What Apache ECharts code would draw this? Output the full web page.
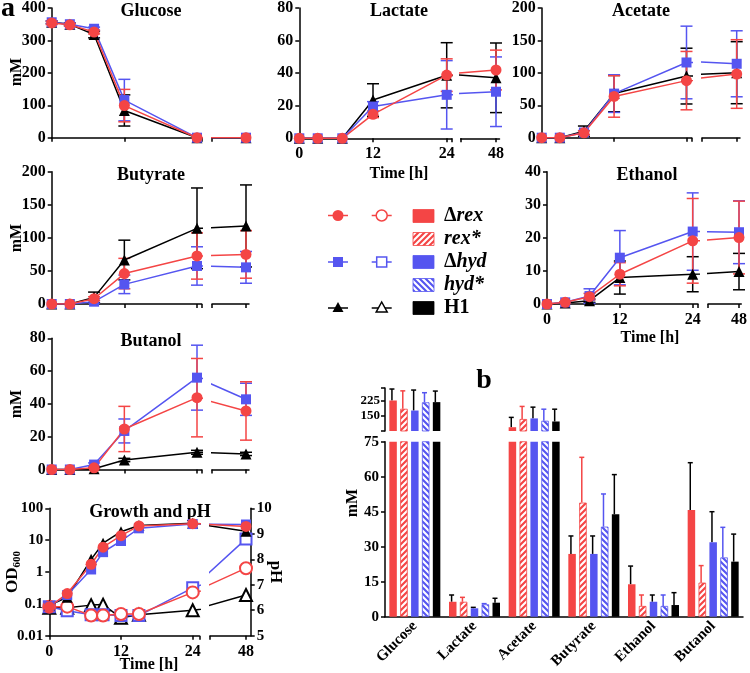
<!DOCTYPE html>
<html><head><meta charset="utf-8">
<script src="https://cdn.jsdelivr.net/npm/echarts@6/dist/echarts.min.js"></script>
<style>html,body{margin:0;padding:0;background:#fff}#c{width:750px;height:673px}</style>
</head><body><div id="c"></div>
<script>
const RED = '#f44545', BLUE = '#5555f0', BLACK = '#000000';
const FF = '"Liberation Serif","Times New Roman",serif';

// ---------------- DATA ----------------
const times = [0, 3, 7, 12, 24, 48];
const growthTimes = [0, 3, 7, 9, 12, 15, 24, 48];
// each point: [mean, sd]
const glucoseRex = [[354,5],[348,4],[326,6],[99,50],[0,0],[0,0]];
const glucoseHyd = [[356,4],[350,4],[336,5],[116,64],[0,0],[0,0]];
const glucoseH1  = [[356,4],[350,4],[318,10],[84,48],[0,0],[0,0]];
const lactateRex = [[0,0],[0,0],[0,0],[14.7,2],[38.8,10],[41.2,12]];
const lactateHyd = [[0,0],[0,0],[0,0],[19.5,3],[26.7,21],[28.1,21]];
const lactateH1  = [[0,0],[0,0],[0,0],[23.5,10],[38.7,20],[36.5,21]];
const acetateRex = [[0,0],[0,0],[7.6,3],[63.6,32],[88,45],[96.5,52]];
const acetateHyd = [[0,0],[0,0],[8,3],[68,29],[116,56],[112,50]];
const acetateH1  = [[0,0],[0,0],[10,8],[68,28],[95,43],[98.5,47]];
const butyrateRex = [[0,0],[0,0],[8,3],[46,23],[72.6,35],[75,36]];
const butyrateHyd = [[0,0],[0,0],[3.5,2],[29.7,14],[57.5,29],[55.4,24]];
const butyrateH1  = [[0,0],[0,0],[10,8],[66.5,30],[114.4,61],[118,62]];
const ethanolRex = [[0,0],[0.5,0.2],[2.2,1],[9,3.5],[19.1,12.8],[20.1,11]];
const ethanolHyd = [[0,0],[0.5,0.2],[2.4,2.2],[14,8.2],[21.9,11.7],[21.7,9.5]];
const ethanolH1  = [[0,0],[0.3,0],[1,0.5],[8,5],[9,5.3],[9.8,5.5]];
const butanolRex = [[0,0],[0,0],[1,0.5],[24.7,13.8],[43.8,23.9],[35.7,17.8]];
const butanolHyd = [[0,0],[0,0],[3,1],[23.5,7.3],[56,19.8],[42.8,9.8]];
const butanolH1  = [[0,0],[0,0],[0.5,0.3],[5.8,1],[10.5,1.2],[9.5,1]];

const odRex = [0.081, 0.21, 1.75, 6.0, 13.8, 28, 33, 27];
const odHyd = [0.085, 0.19, 1.2, 4.2, 9.4, 23.5, 32, 31];
const odH1  = [0.09, 0.16, 2.5, 8, 18.4, 29, 34, 19];
const phRex = [6.14, 6.14, 5.79, 5.79, 5.85, 5.85, 6.70, 7.65];
const phHyd = [6.14, 5.98, 5.82, 5.82, 5.79, 5.79, 6.88, 8.80];
const phH1  = [6.1, 6.1, 6.2, 6.22, 5.7, 5.82, 6.0, 6.6];

const barCats = ['Glucose','Lactate','Acetate','Butyrate','Ethanol','Butanol'];
const barRex       = [224, 6.4, 93.5, 26.9, 13.9, 45.7];
const barRexSd     = [56, 2.9, 48, 7.7, 7.8, 20.3];
const barRexStar   = [183.5, 6.4, 133.5, 48.9, 4.6, 14.6];
const barRexStarSd = [87.5, 1.9, 61.5, 19.4, 4.7, 7.3];
const barHyd       = [175, 3.6, 136.5, 26.9, 6.4, 31.9];
const barHydSd     = [100, 0.4, 55, 7.7, 2.9, 13.1];
const barHydStar   = [215, 5.3, 125, 38.6, 4.6, 25.4];
const barHydStarSd = [47, 0.3, 56.5, 14, 4.7, 12.9];
const barH1        = [216, 6.0, 121.5, 43.9, 5.0, 23.6];
const barH1Sd      = [54, 1.9, 60, 17, 5.3, 11.8];

// ---------------- BUILD ----------------
const grid = [], xAxis = [], yAxis = [], series = [], graphic = [];
const LS = {color:'#000', width:1.5};
const lab = (size) => ({color:'#000', fontFamily:FF, fontWeight:'bold', fontSize:size});
function addGrid(l,t,w,h){ grid.push({left:l,top:t,width:w,height:h,containLabel:false,show:false}); return grid.length-1; }

function errSeries(xi, yi, data, color, capHalf, upOnly, dx){
  return {type:'custom', xAxisIndex:xi, yAxisIndex:yi, data:data, encode:{x:0,y:[1,2]}, silent:true, z:2,
    renderItem:function(params, api){
      const x = api.value(0), lo = api.value(1), hi = api.value(2);
      const a = api.coord([x,lo]), b = api.coord([x,hi]);
      const o = dx||0;
      const st = {stroke:color, lineWidth:1.5};
      const ch = [
        {type:'line', shape:{x1:a[0]+o,y1:a[1],x2:b[0]+o,y2:b[1]}, style:st},
        {type:'line', shape:{x1:b[0]+o-capHalf,y1:b[1],x2:b[0]+o+capHalf,y2:b[1]}, style:st}];
      if(!upOnly) ch.push({type:'line', shape:{x1:a[0]+o-capHalf,y1:a[1],x2:a[0]+o+capHalf,y2:a[1]}, style:st});
      return {type:'group', children:ch};
    }};
}

const STRAINS = [
  {color:BLACK, symbol:'triangle', size:11},
  {color:BLUE, symbol:'rect', size:10},
  {color:RED, symbol:'circle', size:11}];

function makeXAxes(L, xlab){
  const pxH = (L.x24-L.x0)/24, lMax = (L.cap-L.x0)/pxH;
  const pxH2 = (L.x48-L.x24)/24, rMin = 48-(L.x48-L.rs)/pxH2, rMax = 48+(L.re-L.x48)/pxH2;
  const h = L.bottom-L.top;
  const gl = addGrid(L.x0, L.top, L.cap-L.x0, h), gr = addGrid(L.rs, L.top, L.re-L.rs, h);
  const xl = xAxis.length;
  xAxis.push({gridIndex:gl, type:'value', min:0, max:lMax, axisLine:{onZero:false, lineStyle:LS},
    axisTick:{length:4, lineStyle:LS, customValues:[0,12,24,lMax]},
    axisLabel:Object.assign({show:xlab, customValues:[0,12,24], margin:8}, lab(16)), splitLine:{show:false}});
  xAxis.push({gridIndex:gr, type:'value', min:rMin, max:rMax, axisLine:{onZero:false, lineStyle:LS},
    axisTick:{length:4, lineStyle:LS, customValues:[rMin,48]},
    axisLabel:Object.assign({show:xlab, customValues:[48], margin:8}, lab(16)), splitLine:{show:false}});
  return {gl, gr, xl, lMax, rMin, rMax};
}

function linePanel(L, ymax, yint, sets, xlab){
  const X = makeXAxes(L, xlab);
  const yl = yAxis.length;
  yAxis.push({gridIndex:X.gl, type:'value', min:0, max:ymax, interval:yint, axisLine:{show:true,onZero:false,lineStyle:LS},
    axisTick:{show:true,length:4,lineStyle:LS}, axisLabel:Object.assign({margin:6}, lab(16)), splitLine:{show:false}});
  yAxis.push({gridIndex:X.gr, type:'value', min:0, max:ymax, show:false, splitLine:{show:false}});
  sets.forEach(function(arr,k){
    const S = STRAINS[k];
    [[X.xl,yl,0,X.lMax],[X.xl+1,yl+1,X.rMin,X.rMax]].forEach(function(q){
      const ed = times.map(function(t,i){return [t, arr[i][0]-arr[i][1], arr[i][0]+arr[i][1]];})
        .filter(function(d,i){return d[0]>=q[2] && d[0]<=q[3] && arr[i][1]>0;});
      series.push(errSeries(q[0], q[1], ed, S.color, 6, false, 0));
      series.push({type:'line', xAxisIndex:q[0], yAxisIndex:q[1], data:times.map(function(t,i){return [t, arr[i][0]];}),
        symbol:S.symbol, symbolSize:S.size, showSymbol:true, lineStyle:{color:S.color,width:1.5},
        itemStyle:{color:S.color}, clip:true, z:2, silent:true});
    });
  });
}

const colA = {x0:51.7, x24:197, cap:201.7, rs:212, x48:246, re:249};
linePanel(Object.assign({top:5.7,bottom:137.7}, colA), 400, 100, [glucoseH1, glucoseHyd, glucoseRex], false);
linePanel({x0:299.3, x24:446.7, cap:451.7, rs:460.7, x48:496, re:499.5, top:5.7, bottom:138.3}, 80, 20, [lactateH1, lactateHyd, lactateRex], true);
linePanel({x0:541.7, x24:686.5, cap:691.7, rs:702, x48:736.7, re:740, top:5.7, bottom:137.7}, 200, 50, [acetateH1, acetateHyd, acetateRex], false);
linePanel(Object.assign({top:171.7,bottom:304}, colA), 200, 50, [butyrateH1, butyrateHyd, butyrateRex], false);
linePanel({x0:547, x24:692.7, cap:698, rs:708, x48:746.7, re:749.5, top:171.7, bottom:304}, 40, 10, [ethanolH1, ethanolHyd, ethanolRex], true);
linePanel(Object.assign({top:338.3,bottom:469.5}, colA), 80, 20, [butanolH1, butanolHyd, butanolRex], false);

// Growth and pH
(function(){
  const L = {x0:49.3, x24:192.7, cap:199.3, rs:210, x48:246, re:250.7, top:508.3, bottom:635.7};
  const X = makeXAxes(L, true);
  const y0 = yAxis.length;
  yAxis.push({gridIndex:X.gl, type:'log', logBase:10, min:0.01, max:100, axisLine:{show:true,onZero:false,lineStyle:LS},
    axisTick:{show:true,length:4,lineStyle:LS}, axisLabel:Object.assign({margin:6}, lab(15)), splitLine:{show:false}, minorTick:{show:false}});
  yAxis.push({gridIndex:X.gl, type:'value', min:5, max:10, show:false, splitLine:{show:false}});
  yAxis.push({gridIndex:X.gr, type:'log', logBase:10, min:0.01, max:100, show:false, splitLine:{show:false}});
  yAxis.push({gridIndex:X.gr, type:'value', min:5, max:10, interval:1, position:'right', axisLine:{show:true,onZero:false,lineStyle:LS},
    axisTick:{show:true,length:4,lineStyle:LS}, axisLabel:Object.assign({margin:6}, lab(15)), splitLine:{show:false}});
  const ph = [phH1, phHyd, phRex], od = [odH1, odHyd, odRex];
  const grids = [[X.xl, y0, y0+1],[X.xl+1, y0+2, y0+3]];
  grids.forEach(function(g){
    ph.forEach(function(arr,k){
      const S = STRAINS[k];
      series.push({type:'line', xAxisIndex:g[0], yAxisIndex:g[2], data:growthTimes.map(function(t,i){return [t, arr[i]];}),
        symbol:'empty'+S.symbol.charAt(0).toUpperCase()+S.symbol.slice(1), symbolSize:S.size+1, showSymbol:true,
        lineStyle:{color:S.color,width:1.5}, itemStyle:{color:S.color, borderWidth:1.5}, clip:true, z:2, silent:true});
    });
  });
  grids.forEach(function(g){
    od.forEach(function(arr,k){
      const S = STRAINS[k];
      series.push({type:'line', xAxisIndex:g[0], yAxisIndex:g[1], data:growthTimes.map(function(t,i){return [t, arr[i]];}),
        symbol:S.symbol, symbolSize:S.size, showSymbol:true, lineStyle:{color:S.color,width:1.5},
        itemStyle:{color:S.color}, clip:true, z:3, silent:true});
    });
  });
})();

// ---------------- BAR CHART ----------------
function stripe(color, dir){
  const s = 6, c = document.createElement('canvas'); c.width = s; c.height = s;
  const g = c.getContext('2d'); g.fillStyle = color; g.fillRect(0,0,s,s);
  g.strokeStyle = '#ffffff'; g.lineWidth = 2.1; g.beginPath();
  if(dir > 0){ g.moveTo(0,s); g.lineTo(s,0); g.moveTo(-s/2,s/2); g.lineTo(s/2,-s/2); g.moveTo(s/2,s*1.5); g.lineTo(s*1.5,s/2); }
  else { g.moveTo(0,0); g.lineTo(s,s); g.moveTo(-s/2,s/2); g.lineTo(s/2,s*1.5); g.moveTo(s/2,-s/2); g.lineTo(s*1.5,s/2); }
  g.stroke(); return c;
}
const patRex = {image:stripe(RED, 1), repeat:'repeat'};
const patHyd = {image:stripe(BLUE, -1), repeat:'repeat'};

(function(){
  const bl = 385, bw = 358, BW = 7.5, STEP = 10.85;
  const gT = addGrid(bl, 388, bw, 43), gB = addGrid(bl, 441.7, bw, 175);
  const xT = xAxis.length;
  xAxis.push({gridIndex:gT, type:'category', data:barCats, show:false});
  xAxis.push({gridIndex:gB, type:'category', data:barCats, axisLine:{onZero:false,lineStyle:LS},
    axisTick:{alignWithLabel:true, length:4, lineStyle:LS}, axisLabel:Object.assign({rotate:45, margin:7, interval:0}, lab(15))});
  const yT = yAxis.length;
  yAxis.push({gridIndex:gT, type:'value', min:75, max:285, axisLine:{show:true,onZero:false,lineStyle:LS},
    axisTick:{show:true,length:4,lineStyle:LS,customValues:[75,150,225,285]},
    axisLabel:Object.assign({margin:5, customValues:[150,225]}, lab(13)), splitLine:{show:false}});
  yAxis.push({gridIndex:gB, type:'value', min:0, max:75, interval:15, axisLine:{show:true,onZero:false,lineStyle:LS},
    axisTick:{show:true,length:4,lineStyle:LS}, axisLabel:Object.assign({margin:6}, lab(15)), splitLine:{show:false}});
  const sets = [
    [barRex, barRexSd, RED, RED, BLACK],
    [barRexStar, barRexStarSd, patRex, RED, RED],
    [barHyd, barHydSd, BLUE, BLUE, BLACK],
    [barHydStar, barHydStarSd, patHyd, BLUE, BLUE],
    [barH1, barH1Sd, BLACK, BLACK, BLACK]];
  sets.forEach(function(s, k){
    const vals = s[0], sd = s[1];
    const item = {color:s[2], borderColor:s[3], borderWidth:(k===1||k===3)?0.8:0};
    series.push({type:'bar', xAxisIndex:xT, yAxisIndex:yT, data:vals.map(function(v){return v>75?v:'-';}),
      barWidth:BW, barGap:'45%', itemStyle:item, clip:true, silent:true, z:2});
    series.push({type:'bar', xAxisIndex:xT+1, yAxisIndex:yT+1, data:vals.slice(),
      barWidth:BW, barGap:'45%', itemStyle:item, clip:true, silent:true, z:2});
    const dx = (k-2)*STEP - 1.2;
    const top = [], bot = [];
    vals.forEach(function(v,i){ (v>75?top:bot).push([i, v, v+sd[i]]); });
    series.push(errSeries(xT, yT, top, s[4], 2.5, true, dx));
    series.push(errSeries(xT+1, yT+1, bot, s[4], 2.5, true, dx));
  });
})();

// ---------------- TEXT / LEGEND ----------------
function txt(x, y, text, size, opts){
  opts = opts || {};
  const el = {type:'text', x:x, y:y, rotation:opts.rot||0, silent:true,
    style:{text:text, fill:'#000', font:(opts.italic?'italic ':'')+'bold '+size+'px '+FF,
      align:opts.align||'center', verticalAlign:'middle', textAlign:opts.align||'center', textVerticalAlign:'middle'}};
  if(opts.rich) el.style.rich = opts.rich;
  graphic.push(el);
}
txt(8, 9, 'a', 28);
txt(484, 381, 'b', 28);
txt(151, 11.5, 'Glucose', 18);
txt(399, 11.5, 'Lactate', 18);
txt(641, 11.5, 'Acetate', 18);
txt(151, 175, 'Butyrate', 18);
txt(647, 175, 'Ethanol', 18);
txt(151, 341.5, 'Butanol', 18);
txt(150, 512, 'Growth and pH', 18);
txt(17, 72, 'mM', 16, {rot:Math.PI/2});
txt(17, 238, 'mM', 16, {rot:Math.PI/2});
txt(17, 404, 'mM', 16, {rot:Math.PI/2});
txt(353, 503, 'mM', 16, {rot:Math.PI/2});
txt(399, 174, 'Time [h]', 16);
txt(650, 338, 'Time [h]', 16);
txt(149, 665, 'Time [h]', 16);
txt(275, 572, 'pH', 17, {rot:-Math.PI/2});
txt(13, 572, '{a|OD}{b|600}', 17, {rot:Math.PI/2, rich:{
  a:{fontFamily:FF, fontWeight:'bold', fontSize:17, fill:'#000'},
  b:{fontFamily:FF, fontWeight:'bold', fontSize:11, fill:'#000', padding:[8,0,0,0]}}});

// legend: line symbols
function legLine(cx, cy, color){ graphic.push({type:'line', silent:true, shape:{x1:cx-10,y1:cy,x2:cx+10,y2:cy}, style:{stroke:color,lineWidth:1.5}}); }
[[338, 215.5, RED],[381.7, 215.5, RED],[338, 262, BLUE],[381.7, 262, BLUE],[338, 308, BLACK],[381.7, 308, BLACK]].forEach(function(p){ legLine(p[0],p[1],p[2]); });
graphic.push({type:'circle', silent:true, shape:{cx:338, cy:215.5, r:5.5}, style:{fill:RED}});
graphic.push({type:'circle', silent:true, shape:{cx:381.7, cy:215.5, r:5.5}, style:{fill:'#fff', stroke:RED, lineWidth:1.5}});
graphic.push({type:'rect', silent:true, shape:{x:333, y:257, width:10, height:10}, style:{fill:BLUE}});
graphic.push({type:'rect', silent:true, shape:{x:376.7, y:257, width:10, height:10}, style:{fill:'#fff', stroke:BLUE, lineWidth:1.5}});
graphic.push({type:'polygon', silent:true, shape:{points:[[338,302],[343.5,312],[332.5,312]]}, style:{fill:BLACK}});
graphic.push({type:'polygon', silent:true, shape:{points:[[381.7,302],[387.2,312],[376.2,312]]}, style:{fill:'#fff', stroke:BLACK, lineWidth:1.5}});
// legend: bar swatches
const legRows = [[216, RED, RED], [239, patRex, RED], [262, BLUE, BLUE], [285, patHyd, BLUE], [308, BLACK, BLACK]];
legRows.forEach(function(r){
  graphic.push({type:'rect', silent:true, shape:{x:413, y:r[0]-6.5, width:21, height:13}, style:{fill:r[1], stroke:r[2], lineWidth:0.8}});
});
const richL = {n:{fontFamily:FF, fontWeight:'bold', fontSize:20, fill:'#000'}, i:{fontFamily:FF, fontWeight:'bold', fontStyle:'italic', fontSize:20, fill:'#000'}};
txt(444, 216, '{n|Δ}{i|rex}', 20, {align:'left', rich:richL});
txt(444, 239, '{i|rex*}', 20, {align:'left', rich:richL});
txt(444, 262, '{n|Δ}{i|hyd}', 20, {align:'left', rich:richL});
txt(444, 285, '{i|hyd*}', 20, {align:'left', rich:richL});
txt(444, 308, '{n|H1}', 20, {align:'left', rich:richL});

const chart = echarts.init(document.getElementById('c'), null, {renderer:'canvas'});
chart.setOption({animation:false, backgroundColor:'#fff', grid:grid, xAxis:xAxis, yAxis:yAxis, series:series, graphic:graphic});
</script></body></html>
